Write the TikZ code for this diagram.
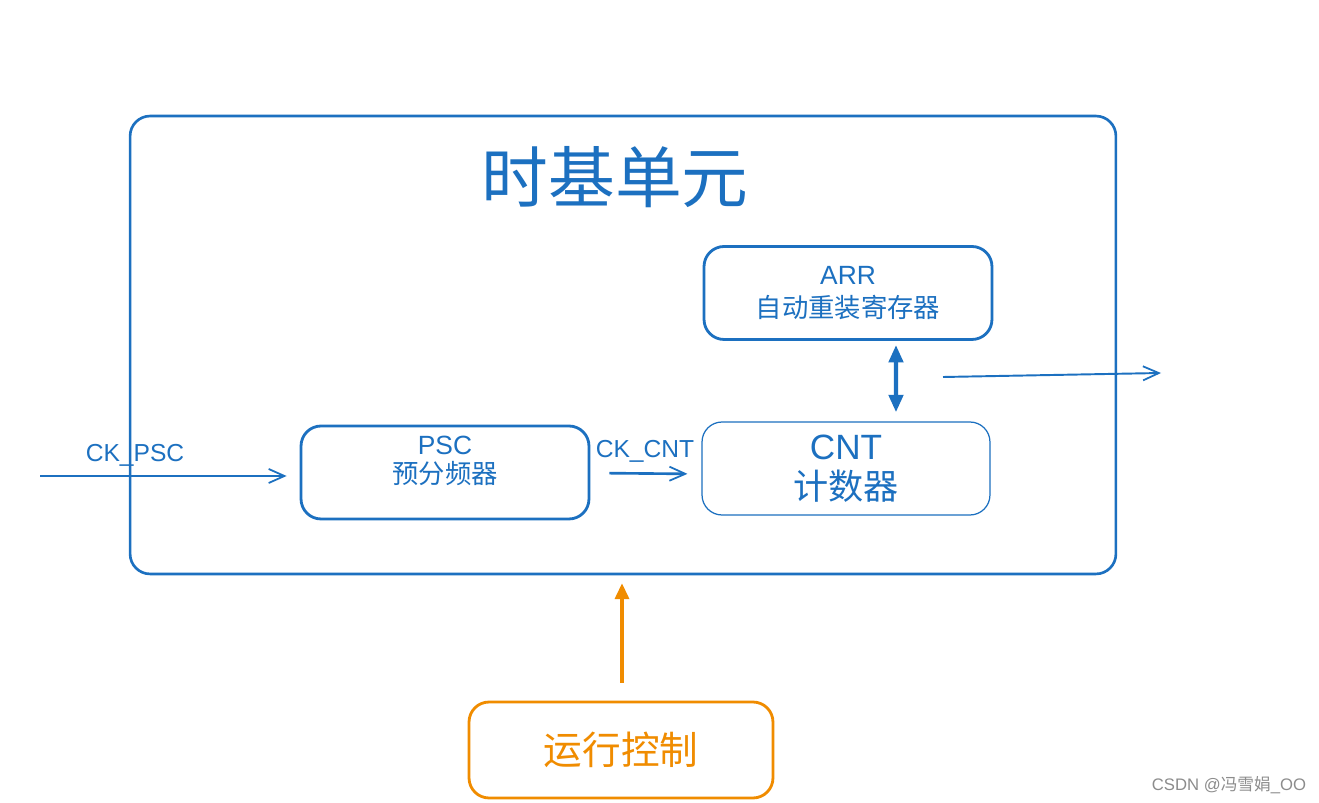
\documentclass[tikz,border=0pt]{standalone}
\usepackage{fontspec}
\setmainfont{Liberation Sans}
\newfontfamily\cjk{Noto Sans CJK SC}
\usetikzlibrary{arrows.meta}
\definecolor{bl}{RGB}{28,112,192}
\definecolor{org}{RGB}{240,140,0}
\definecolor{wm}{RGB}{140,140,140}
\tikzset{
  box/.style={draw=bl, rounded corners=0.4cm, minimum width=5.76cm, minimum height=1.86cm, text=bl, align=center, inner sep=0pt},
  lbl/.style={text=bl, inner sep=0pt, font=\fontsize{14}{16}\selectfont},
  barb/.style={draw=bl, line width=1.1pt, -{Straight Barb[length=9pt,width=8pt,line width=1pt]}},
}
\begin{document}
\begin{tikzpicture}[x=0.02cm,y=-0.02cm]
\useasboundingbox (0,0) rectangle (1319,803);
\fill[white] (0,0) rectangle (1319,803);
% main frame
\node[draw=bl, line width=1.5pt, rounded corners=0.4cm, minimum width=19.72cm, minimum height=9.16cm, inner sep=0pt] (tb) at (623,345) {};
\node[text=bl, inner sep=0pt, font=\cjk\fontsize{38}{40}\selectfont] (title) at (615,177) {时基单元};
% boxes
\node[box, line width=1.6pt, font=\fontsize{15}{19}\selectfont] (arr) at (848,293) {ARR\\{\cjk 自动重装寄存器}};
\node[box, line width=0.7pt, font=\fontsize{20}{23}\selectfont] (cnt) at (846,468.5) {CNT\\{\cjk 计数器}};
\node[box, line width=1.6pt] (psc) at (445,472.5) {};
\node[text=bl, align=center, inner sep=0pt, font=\fontsize{15}{16.5}\selectfont] (psct) at (445,461) {PSC\\{\cjk 预分频器}};
\node[draw=org, line width=1.6pt, rounded corners=0.4cm, minimum width=6.08cm, minimum height=1.92cm, inner sep=0pt, text=org, font=\cjk\fontsize{22}{24}\selectfont] (ctrl) at (621,750) {运行控制};
% labels
\node[lbl] (ckpsc) at (135,455) {CK\_PSC};
\node[lbl] (ckcnt) at (645,451) {CK\_CNT};
% connectors
\coordinate (inL) at (40,476);
\draw[barb] (inL) -- (inL -| psc.west) [shorten >=0.26cm];
\draw[barb, line width=1.5pt, shorten <=0.38cm, shorten >=0.28cm] (psc.east |- 0,473) -- (cnt.west |- 0,474);
\draw[draw=bl, line width=2.5pt, {Triangle[length=10pt,width=8pt]}-{Triangle[length=10pt,width=8pt]}] ([xshift=0.96cm,yshift=-0.08cm]arr.south) -- ([xshift=1cm,yshift=0.18cm]cnt.north);
\coordinate (outA) at (943,377);
\coordinate (outB) at (1161,373);
\draw[barb] (outA) -- (outB);
\draw[draw=org, line width=1.8pt, -{Triangle[length=9pt,width=8pt]}] ([xshift=0.02cm,yshift=0.36cm]ctrl.north) -- ([xshift=0.02cm,yshift=-0.16cm]ctrl.north |- tb.south);
% watermark
\node[text=wm, inner sep=0pt, font=\fontsize{9.5}{11}\selectfont] (wmk) at (1229,785) {CSDN @{\cjk 冯雪娟}\_OO};
\end{tikzpicture}
\end{document}
